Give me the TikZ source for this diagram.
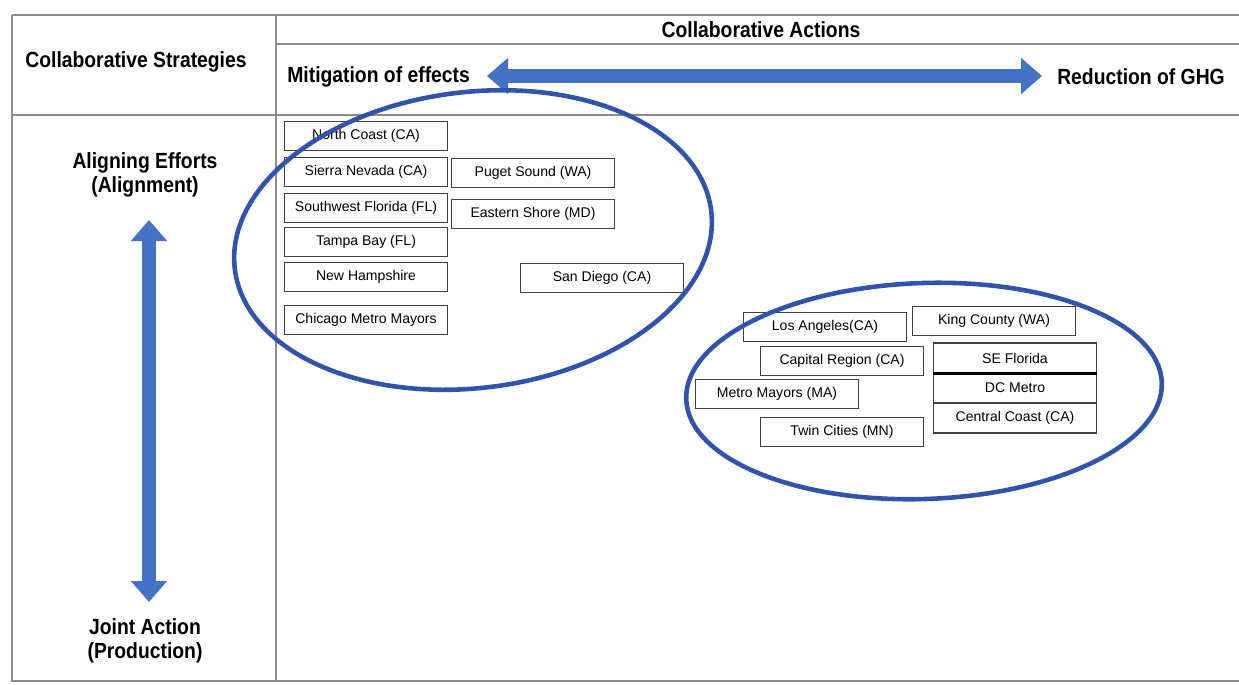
\documentclass[tikz,border=0pt]{standalone}
\usepackage{fontspec}
\setmainfont{Liberation Sans}
\newfontfamily\narrowsans{Liberation Sans}[FakeStretch=0.88]
\usetikzlibrary{arrows.meta,shapes.geometric}
\definecolor{arrowblue}{RGB}{68,114,196}
\definecolor{ringblue}{RGB}{48,84,172}

\begin{document}
\begin{tikzpicture}[
  x=0.02cm,y=-0.02cm,
  head/.style={font=\narrowsans\bfseries\fontsize{12.5}{13.8}\selectfont,align=center,inner sep=0pt},
  site/.style={draw=black!75,line width=0.6pt,minimum width=3.26cm,minimum height=0.58cm,inner sep=0pt,font=\fontsize{8}{9}\selectfont},
  stack/.style={site,minimum height=0.6cm},
  ring/.style={draw=ringblue,ellipse,line width=2.6pt,inner sep=0pt},
  rule/.style={draw=black!45,line width=1pt},
  bigarr/.style={draw=arrowblue,line width=0.28cm,{Triangle[width=0.7cm,length=0.42cm]}-{Triangle[width=0.7cm,length=0.42cm]}}
]
\useasboundingbox (0,0) rectangle (1239,684);

% table frame
\draw[rule] (12,15) -- (1239,15);
\draw[rule] (12,15) -- (12,681) -- (1239,681);
\draw[rule] (276,15) -- (276,681);
\draw[rule] (276,44) -- (1239,44);
\draw[rule] (12,115) -- (1239,115);

% headers
\node[head] (strat) at (136,62) {Collaborative Strategies};
\node[head] (actions) at (761,30) {Collaborative Actions};
\node[head,anchor=west] (mit) at (287,77) {Mitigation of effects};
\node[head] (ghg) at (1141,77) {Reduction of GHG};
\node[head] (align) at (145,175) {Aligning Efforts\\(Alignment)};
\node[head] (joint) at (145,641) {Joint Action\\(Production)};

\coordinate (mitend) at (487,76);
\coordinate (ghgend) at (1042,76);
\coordinate (alignend) at (149,220);
\coordinate (jointend) at (149,602);
\draw[bigarr] (mitend) -- (ghgend);
\draw[bigarr] (alignend) -- (jointend);

% first group
\node[site] (nc) at (366,136) {North Coast (CA)};
\node[site] (sn) at (366,172) {Sierra Nevada (CA)};
\node[site] (ps) at (533,173) {Puget Sound (WA)};
\node[site] (swf) at (366,208) {Southwest Florida (FL)};
\node[site] (es) at (533,214) {Eastern Shore (MD)};
\node[site] (tb) at (366,242) {Tampa Bay (FL)};
\node[site] (nh) at (366,277) {New Hampshire};
\node[site] (sd) at (602,278) {San Diego (CA)};
\node[site] (chi) at (366,320) {Chicago Metro Mayors};

% second group
\node[site] (la) at (825,327) {Los Angeles(CA)};
\node[site] (kc) at (994,321) {King County (WA)};
\node[site] (cr) at (842,361) {Capital Region (CA)};
\node[site] (mm) at (777,394) {Metro Mayors (MA)};
\node[site] (tc) at (842,432) {Twin Cities (MN)};
\node[stack] (sef) at (1015,358) {SE Florida};
\node[stack] (dc) at (1015,388) {DC Metro};
\node[stack] (cc) at (1015,418) {Central Coast (CA)};
\draw[line width=1.6pt] (sef.south west) -- (sef.south east);

\node[ring,minimum width=9.6cm,minimum height=5.92cm,rotate=7] (ring1) at (473,240) {};
\node[ring,minimum width=9.52cm,minimum height=4.32cm,rotate=2] (ring2) at (924,391) {};

\end{tikzpicture}
\end{document}
